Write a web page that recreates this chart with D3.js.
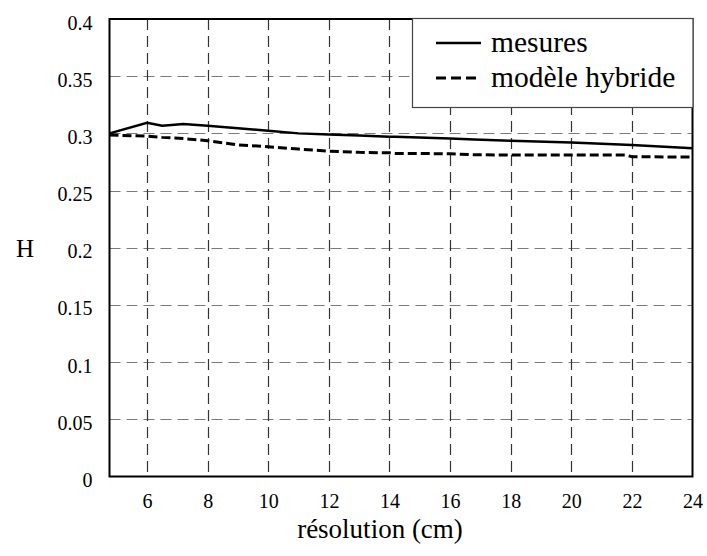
<!DOCTYPE html>
<html><head><meta charset="utf-8">
<script src="https://cdn.jsdelivr.net/npm/d3@7"></script>
<style>body{margin:0;background:#fff}svg{display:block}text{font-family:"Liberation Serif","Times New Roman",Times,"Nimbus Roman","DejaVu Serif","Noto Serif",serif;fill:#000}</style>
</head><body>
<svg id="c" width="707" height="556"></svg>
<script>
const resolution = [4.76, 6, 6.5, 7.2, 8, 9, 10, 11, 12, 13, 14, 14.2, 16, 16.8, 18, 20, 21.8, 22, 24];
const mesures    = [0.3000, 0.3093, 0.3067, 0.3081, 0.3067, 0.3045, 0.3023, 0.3000, 0.2991, 0.2981, 0.2971, 0.2970, 0.2956, 0.2947, 0.2935, 0.2921, 0.2900, 0.2898, 0.2869];
const hybride    = [0.2985, 0.2976, 0.2965, 0.2955, 0.2935, 0.2900, 0.2883, 0.2863, 0.2845, 0.2834, 0.2830, 0.2825, 0.2822, 0.2813, 0.2810, 0.2810, 0.2810, 0.2796, 0.2793];
const xTicks = [6, 8, 10, 12, 14, 16, 18, 20, 22, 24];
const yTicks = [0, 0.05, 0.1, 0.15, 0.2, 0.25, 0.3, 0.35, 0.4];
const yTickLabels = ["0", "0.05", "0.1", "0.15", "0.2", "0.25", "0.3", "0.35", "0.4"];
const seriesNames = ["mesures", "modèle hybride"];

const svg = d3.select("#c");
const L = 109.5, R = 692.5, T = 19, B = 476.5;
const x = d3.scaleLinear().domain([4.76, 24]).range([L, R]);
const y = d3.scaleLinear().domain([0, 0.4]).range([B, T]);

// grid
svg.append("g").selectAll("line").data(yTicks.slice(1, -1)).join("line")
  .attr("x1", L).attr("x2", R).attr("y1", d => Math.round(y(d)) + 0.5).attr("y2", d => Math.round(y(d)) + 0.5)
  .attr("stroke", "#7a7a7a").attr("stroke-width", 1.2).attr("stroke-dasharray", "11,6");
svg.append("g").selectAll("line").data(xTicks.slice(0, -1)).join("line")
  .attr("y1", T).attr("y2", B).attr("x1", d => Math.round(x(d)) + 0.5).attr("x2", d => Math.round(x(d)) + 0.5)
  .attr("stroke", "#333").attr("stroke-width", 1.2).attr("stroke-dasharray", "11,6");

// series
const line = d3.line().x((d, i) => x(resolution[i])).y(d => y(d));
svg.append("path").datum(hybride).attr("d", line).attr("fill", "none")
  .attr("stroke", "#000").attr("stroke-width", 3).attr("stroke-dasharray", "9,4");
svg.append("path").datum(mesures).attr("d", line).attr("fill", "none")
  .attr("stroke", "#000").attr("stroke-width", 2.5);

// frame
svg.append("rect").attr("x", L).attr("y", T).attr("width", R - L).attr("height", B - T)
  .attr("fill", "none").attr("stroke", "#000").attr("stroke-width", 2);

// axes labels via d3 axes
const yAxis = d3.axisLeft(y).tickValues(yTicks).tickFormat((d, i) => yTickLabels[i]).tickSize(0).tickPadding(17);
const gy = svg.append("g").attr("transform", `translate(${L},0)`).call(yAxis);
gy.attr("font-family", null);
gy.select(".domain").remove();
gy.selectAll("text").attr("font-size", 20).attr("dy", "0.5em");

const xAxis = d3.axisBottom(x).tickValues(xTicks).tickSize(0).tickPadding(17);
const gx = svg.append("g").attr("transform", `translate(0,${B})`).call(xAxis);
gx.attr("font-family", null);
gx.select(".domain").remove();
gx.selectAll("text").attr("font-size", 20);

svg.append("text").attr("x", 380).attr("y", 538).attr("text-anchor", "middle")
  .attr("font-size", 27).text("résolution (cm)");
svg.append("text").attr("x", 25).attr("y", 257).attr("text-anchor", "middle")
  .attr("font-size", 25).text("H");

// legend
const lg = svg.append("g");
lg.append("rect").attr("x", 412.5).attr("y", 18.5).attr("width", 280.5).attr("height", 89)
  .attr("fill", "#fff").attr("stroke", "#444").attr("stroke-width", 1.2);
lg.append("line").attr("x1", 436).attr("x2", 481).attr("y1", 43).attr("y2", 43)
  .attr("stroke", "#000").attr("stroke-width", 2.5);
lg.append("line").attr("x1", 436).attr("x2", 481).attr("y1", 78).attr("y2", 78)
  .attr("stroke", "#000").attr("stroke-width", 3).attr("stroke-dasharray", "10,5");
lg.selectAll("text").data(seriesNames).join("text")
  .attr("x", 491).attr("y", (d, i) => 52 + i * 35).attr("font-size", 29.5).text(d => d);
</script>
</body></html>
